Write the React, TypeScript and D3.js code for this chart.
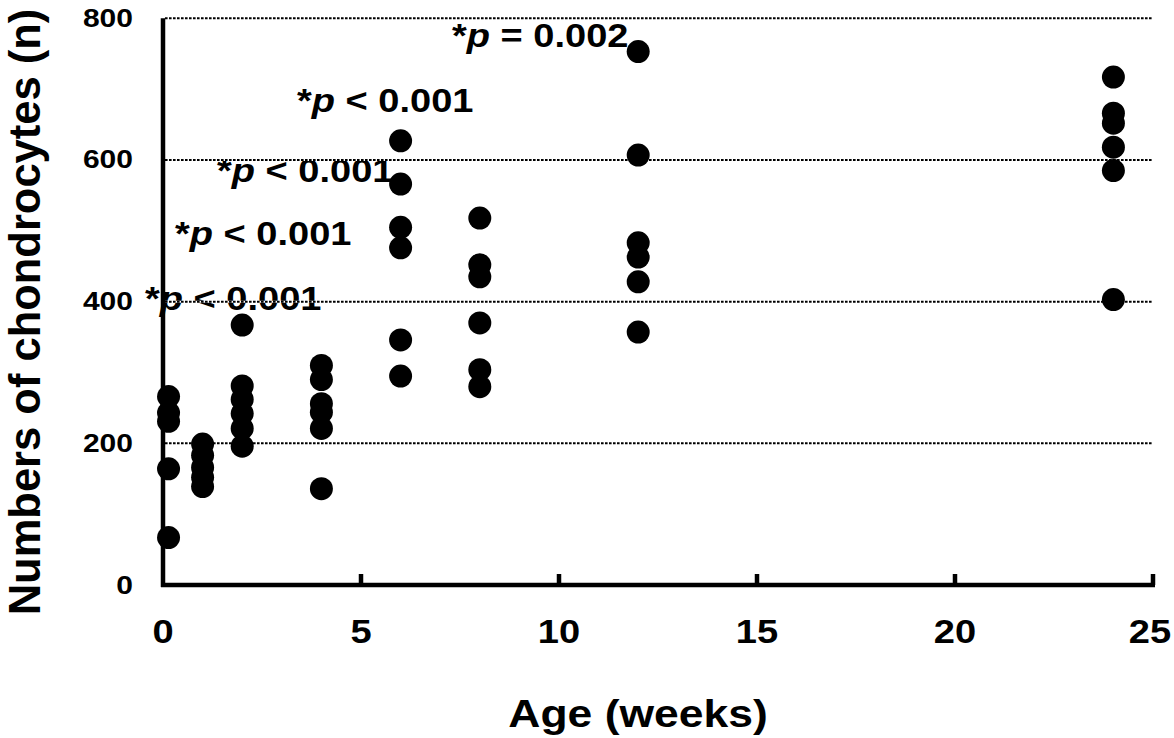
import React from "react";
import * as d3 from "d3";

// ---- data ----
const weeks: number[] = [0.14, 1, 2, 4, 6, 8, 12, 24];
const counts: number[][] = [
  [266, 243, 231, 164, 67],
  [199, 183, 166, 152, 139],
  [367, 281, 262, 242, 221, 196],
  [310, 290, 256, 244, 221, 136],
  [627, 566, 505, 476, 346, 295],
  [518, 452, 435, 370, 304, 280],
  [753, 607, 483, 463, 428, 357],
  [717, 666, 652, 618, 585, 403],
];
const xTicks: number[] = [0, 5, 10, 15, 20, 25];
const yTicks: number[] = [0, 200, 400, 600, 800];
const gridValues: number[] = [200, 400, 600, 800];
const pOps: string[] = ["<", "<", "<", "<", "="];
const pVals: string[] = ["0.001", "0.001", "0.001", "0.001", "0.002"];
const xTitle = "Age (weeks)";
const yTitle = "Numbers of chondrocytes (n)";

// ---- layout ----
const W = 1174;
const H = 738;
const FONT = "'Liberation Sans', Arial, Helvetica, sans-serif";
const SX = 1.17;
const annotPos: [number, number][] = [
  [145, 310],
  [175, 245],
  [217, 182],
  [297, 112],
  [452, 47],
];

export default function App() {
  const x = d3.scaleLinear().domain([0, 25]).range([163, 1153]);
  const y = d3.scaleLinear().domain([0, 800]).range([585, 18.3]);

  const points: { wx: number; v: number }[] = [];
  weeks.forEach((w, i) => counts[i].forEach((v) => points.push({ wx: w, v })));

  return (
    <svg
      width={W}
      height={H}
      style={{ position: "absolute", left: 0, top: 0, background: "#fff" }}
      fontFamily={FONT}
      fontWeight="bold"
    >
      <rect x={0} y={0} width={W} height={H} fill="#fff" />

      {/* annotations */}
      {pOps.map((op, i) => (
        <text
          key={"a" + i}
          transform={`translate(${annotPos[i][0]},${annotPos[i][1]}) scale(${SX},1)`}
          fontSize={32.5}
          fill="#000"
        >
          *<tspan fontStyle="italic">p</tspan>
          {` ${op} ${pVals[i]}`}
        </text>
      ))}

      {/* gridlines */}
      {gridValues.map((g) => (
        <g key={"g" + g}>
          <line x1={x(0) + 2} x2={x(25)} y1={y(g)} y2={y(g)} stroke="#fff" strokeWidth={2} />
          <line
            x1={x(0) + 2}
            x2={x(25)}
            y1={y(g)}
            y2={y(g)}
            stroke="#000"
            strokeWidth={2}
            strokeDasharray="2.6,1.4"
          />
        </g>
      ))}

      {/* points */}
      {points.map((p, i) => (
        <circle key={"p" + i} cx={x(p.wx)} cy={y(p.v)} r={11.5} fill="#000" />
      ))}

      {/* axes */}
      <line x1={x(0)} x2={x(0)} y1={y(800)} y2={y(0) + 2} stroke="#000" strokeWidth={4.5} />
      <line x1={x(0) - 2} x2={x(25) + 2} y1={y(0)} y2={y(0)} stroke="#000" strokeWidth={4.5} />
      {xTicks.slice(1).map((t) => (
        <line key={"xt" + t} x1={x(t)} x2={x(t)} y1={y(0)} y2={y(0) - 11} stroke="#000" strokeWidth={4.5} />
      ))}

      {/* x tick labels */}
      {xTicks.map((t) => (
        <text
          key={"xl" + t}
          transform={`translate(${x(t) - (t === 25 ? 3 : 0)},643) scale(1.12,1)`}
          textAnchor="middle"
          fontSize={34}
          fill="#000"
        >
          {t}
        </text>
      ))}

      {/* y tick labels */}
      {yTicks.map((t) => (
        <text
          key={"yl" + t}
          transform={`translate(133,${y(t) + 8.5}) scale(1.2,1)`}
          textAnchor="end"
          fontSize={25}
          fill="#000"
        >
          {t}
        </text>
      ))}

      {/* axis titles */}
      <text
        transform={`translate(638,727) scale(${SX},1)`}
        textAnchor="middle"
        fontSize={38}
        fill="#000"
      >
        {xTitle}
      </text>
      <text
        transform={`translate(40,312) rotate(-90)`}
        textAnchor="middle"
        fontSize={43.5}
        fill="#000"
      >
        {yTitle}
      </text>
    </svg>
  );
}
